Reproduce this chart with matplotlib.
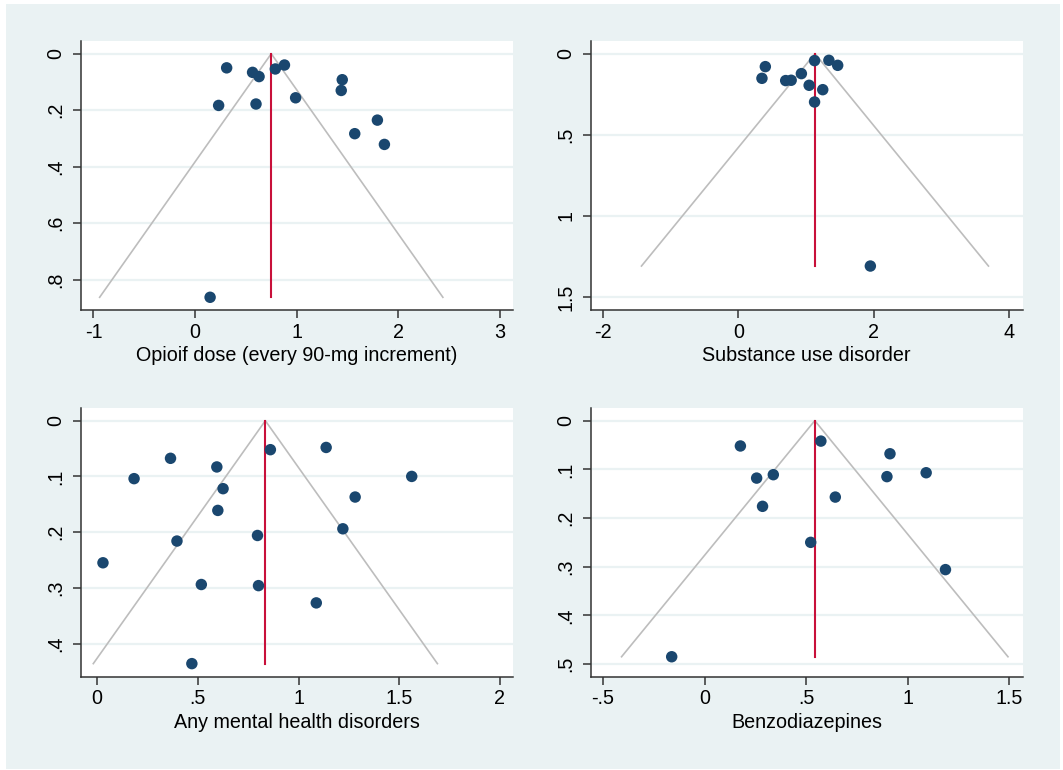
import matplotlib.pyplot as plt
import matplotlib.ticker as mticker
from matplotlib.patches import Rectangle

plt.rcParams["font.family"] = ["Liberation Sans", "DejaVu Sans"]

# effect estimates (x) and standard errors (y) per outcome
opioid_est = [0.311, 0.566, 0.63, 0.79, 0.88, 1.449, 1.439, 0.99, 0.232, 0.60, 1.795, 1.572, 1.864, 0.148]
opioid_se = [0.050, 0.066, 0.081, 0.054, 0.040, 0.092, 0.130, 0.156, 0.183, 0.178, 0.235, 0.283, 0.321, 0.862]
opioid_pooled = 0.75

sud_est = [1.125, 1.337, 1.467, 0.397, 0.347, 0.698, 0.779, 0.93, 1.045, 1.246, 1.125, 1.95]
sud_se = [0.043, 0.041, 0.072, 0.080, 0.152, 0.166, 0.164, 0.123, 0.195, 0.222, 0.298, 1.309]
sud_pooled = 1.131

mental_est = [0.86, 1.137, 0.364, 0.594, 0.183, 1.562, 0.625, 1.281, 0.599, 1.22, 0.796, 0.396,
              0.0285, 0.517, 0.801, 1.088, 0.47]
mental_se = [0.052, 0.048, 0.0675, 0.083, 0.104, 0.100, 0.122, 0.137, 0.161, 0.194, 0.206, 0.216,
             0.255, 0.294, 0.296, 0.327, 0.436]
mental_pooled = 0.835

benzo_est = [0.176, 0.572, 0.912, 0.256, 0.338, 0.897, 1.09, 0.643, 0.285, 0.522, 1.185, -0.162]
benzo_se = [0.052, 0.042, 0.068, 0.118, 0.111, 0.115, 0.107, 0.157, 0.176, 0.250, 0.306, 0.485]
benzo_pooled = 0.542

panels = [
    dict(est=opioid_est, se=opioid_se, pooled=opioid_pooled,
         label="Opioif dose (every 90-mg increment)",
         xticks=[-1, 0, 1, 2, 3], yticks=[0, 0.2, 0.4, 0.6, 0.8],
         xlim=(-1.123, 3.13), ylim=(0.907, -0.045),
         pos=[81, 41, 513, 310]),
    dict(est=sud_est, se=sud_se, pooled=sud_pooled,
         label="Substance use disorder",
         xticks=[-2, 0, 2, 4], yticks=[0, 0.5, 1, 1.5],
         xlim=(-2.181, 4.2), ylim=(1.58, -0.078),
         pos=[591, 41, 1022.5, 310]),
    dict(est=mental_est, se=mental_se, pooled=mental_pooled,
         label="Any mental health disorders",
         xticks=[0, 0.5, 1, 1.5, 2], yticks=[0, 0.1, 0.2, 0.3, 0.4],
         xlim=(-0.0806, 2.065), ylim=(0.460, -0.0228),
         pos=[81, 408, 513, 677]),
    dict(est=benzo_est, se=benzo_se, pooled=benzo_pooled,
         label="Benzodiazepines",
         xticks=[-0.5, 0, 0.5, 1, 1.5], yticks=[0, 0.1, 0.2, 0.3, 0.4, 0.5],
         xlim=(-0.559, 1.564), ylim=(0.5266, -0.026),
         pos=[591, 408, 1022.5, 677]),
]

W, H = 1063, 770
BG = "#eaf2f3"
DOT = "#1a476f"
RED = "#c8103a"
FUNNEL = "#bdbdbd"
AXIS = "#333333"


def stata_fmt(v, pos=None):
    s = f"{v:g}"
    if s.startswith("0.") and s != "0":
        s = s[1:]
    elif s.startswith("-0."):
        s = "-" + s[2:]
    return s


fig = plt.figure(figsize=(W / 100, H / 100), dpi=100)
fig.patch.set_facecolor("white")
fig.patches.append(Rectangle((6 / W, 1 - 769 / H), 1054 / W, 765 / H,
                             transform=fig.transFigure, facecolor=BG,
                             edgecolor="none", zorder=-10))

for p in panels:
    x0, y0, x1, y1 = p["pos"]
    ax = fig.add_axes([x0 / W, 1 - y1 / H, (x1 - x0) / W, (y1 - y0) / H])
    ax.set_facecolor("white")

    se_max = max(p["se"])
    th = p["pooled"]
    # pseudo 95% confidence limits
    ax.plot([th - 1.96 * se_max, th, th + 1.96 * se_max], [se_max, 0, se_max],
            color=FUNNEL, lw=1.2, zorder=2)
    ax.plot([th, th], [0, se_max], color=RED, lw=1.5, zorder=3)
    ax.scatter(p["est"], p["se"], s=68, color=DOT, edgecolors="none", zorder=4)

    ax.set_xlim(*p["xlim"])
    ax.set_ylim(*p["ylim"])
    ax.set_xticks(p["xticks"])
    ax.set_yticks(p["yticks"])
    ax.xaxis.set_major_formatter(mticker.FuncFormatter(stata_fmt))
    ax.yaxis.set_major_formatter(mticker.FuncFormatter(stata_fmt))
    ax.grid(axis="y", color=BG, lw=1.6, zorder=1)
    ax.set_axisbelow(True)

    for side in ("top", "right"):
        ax.spines[side].set_visible(False)
    for side in ("left", "bottom"):
        ax.spines[side].set_color(AXIS)
        ax.spines[side].set_linewidth(1.1)
    ax.tick_params(direction="out", length=5.5, width=1.1, color=AXIS,
                   labelsize=14.2, pad=3.5)
    ax.tick_params(axis="y", pad=5.5)
    for lab in ax.get_yticklabels():
        lab.set_rotation(90)
        lab.set_va("center")
    ax.set_xlabel(p["label"], fontsize=14.2, labelpad=3)

fig.savefig("out.png", dpi=100, facecolor="white")
